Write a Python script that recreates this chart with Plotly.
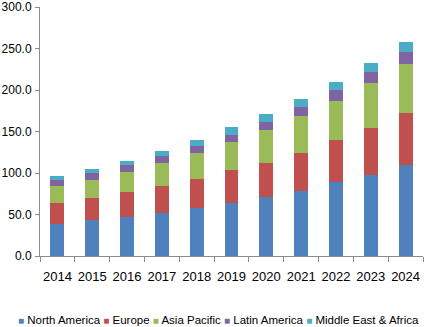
import plotly.graph_objects as go

years = ["2014", "2015", "2016", "2017", "2018", "2019", "2020", "2021", "2022", "2023", "2024"]
north_america = [38.5, 43.3, 47.3, 51.7, 57.7, 63.7, 71.3, 78.5, 88.9, 97.7, 109.4]
europe = [25.2, 26.4, 29.6, 32.8, 35.2, 39.7, 41.3, 46.1, 50.5, 56.5, 62.5]
asia_pacific = [20.8, 22.0, 24.9, 28.1, 30.9, 33.6, 39.2, 43.7, 47.7, 53.8, 59.2]
latin_america = [6.8, 8.9, 7.9, 7.6, 8.4, 9.3, 9.7, 11.2, 12.8, 14.0, 14.5]
mea = [4.9, 4.8, 5.3, 6.4, 7.6, 8.7, 10.0, 9.2, 10.1, 10.8, 12.0]

series_names = ["North America", "Europe", "Asia Pacific", "Latin America", "Middle East & Africa"]
series_values = [north_america, europe, asia_pacific, latin_america, mea]
colors = ["#4F81BD", "#C0504D", "#9BBB59", "#8064A2", "#4BACC6"]
y_ticks = [0, 50, 100, 150, 200, 250, 300]

FONT = "Liberation Sans, Arial, sans-serif"

fig = go.Figure()
for name, vals, col in zip(series_names, series_values, colors):
    fig.add_trace(go.Bar(x=years, y=vals, name=name, marker=dict(color=col, line=dict(width=0)),
                         showlegend=False))

legend_text = " ".join(
    f'<span style="color:{c};font-size:10px">■</span> {n}' for n, c in zip(series_names, colors)
)

ML, MR, MT, MB = 40, 1, 7, 71
W, H = 424, 327
plot_w = W - ML - MR
plot_h = H - MT - MB

fig.add_annotation(text=legend_text,
                   x=(218 - ML) / plot_w, y=(H - MB - 320) / plot_h,
                   xref="paper", yref="paper",
                   showarrow=False, font=dict(family=FONT, size=11.5, color="#000000"),
                   xanchor="center", yanchor="middle")

fig.update_layout(
    width=W, height=H,
    margin=dict(l=ML, r=MR, t=MT, b=MB),
    barmode="stack",
    bargap=0.6,
    plot_bgcolor="white",
    paper_bgcolor="white",
    font=dict(family=FONT, size=12.5, color="#000000"),
    xaxis=dict(type="category", showline=True, linecolor="#8c8c8c", linewidth=1,
               ticks="outside", tickson="boundaries", ticklen=5, tickcolor="#8c8c8c",
               showgrid=False, tickangle=0, tickfont=dict(size=13), automargin=False,
               ticklabelstandoff=8),
    yaxis=dict(range=[0, 300], tickmode="array", tickvals=y_ticks,
               ticktext=[f"{v:.1f}" for v in y_ticks], showline=True, linecolor="#8c8c8c",
               linewidth=1, ticks="outside", ticklen=4, tickcolor="#8c8c8c", showgrid=False,
               zeroline=False, tickfont=dict(size=12), automargin=False,
               ticklabelstandoff=1),
)

fig.write_html("out.html")
